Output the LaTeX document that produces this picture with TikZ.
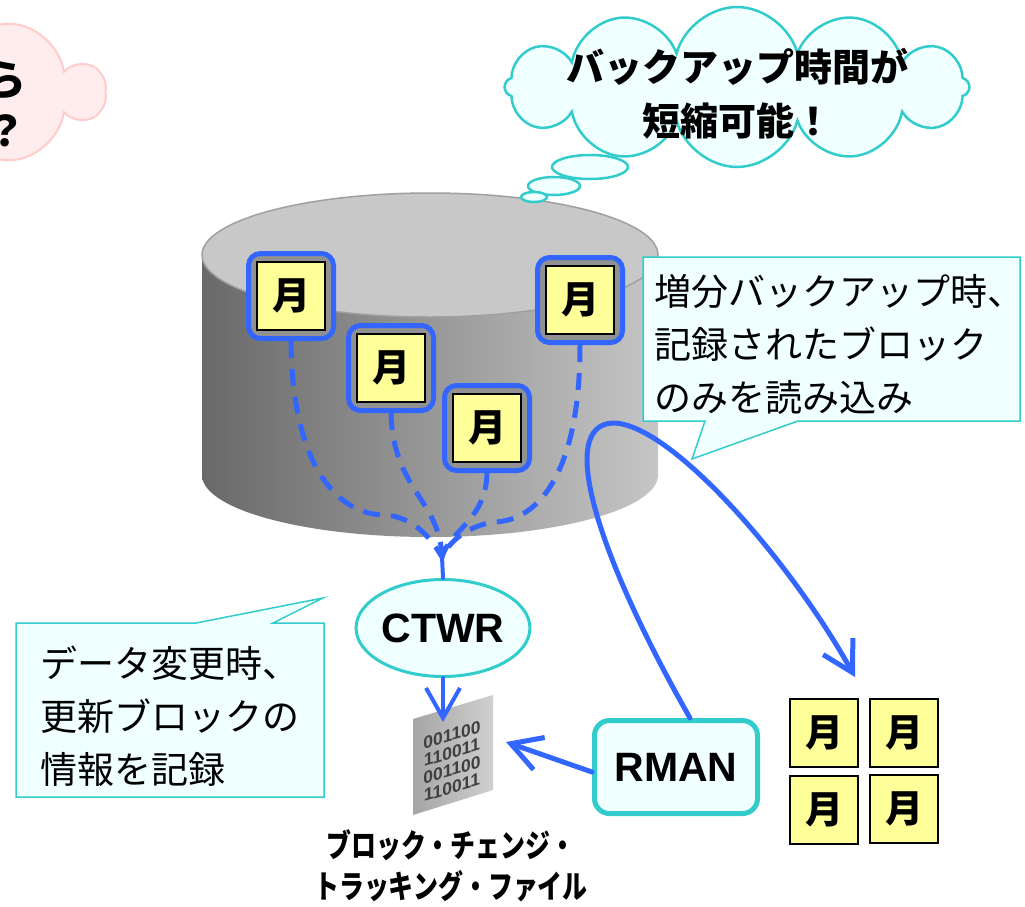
\documentclass[tikz,border=0pt]{standalone}
\usepackage{fontspec}
\newfontfamily\jpfont{Noto Sans CJK JP}
\newfontfamily\sansfont{Liberation Sans}
\usetikzlibrary{arrows.meta,shapes.geometric,shapes.symbols}

\definecolor{flowblue}{RGB}{51,102,255}
\definecolor{tealine}{RGB}{51,204,204}
\definecolor{paleteal}{RGB}{240,255,255}
\definecolor{noteyellow}{RGB}{255,255,153}
\definecolor{pinkfill}{RGB}{255,236,236}
\definecolor{pinkline}{RGB}{255,204,204}
\definecolor{drumtop}{RGB}{200,200,200}
\definecolor{drumedge}{RGB}{160,160,160}
\definecolor{drumdark}{RGB}{105,105,105}
\definecolor{drumlight}{RGB}{198,198,198}
\definecolor{framegray}{RGB}{145,145,145}

\tikzset{
  flow/.style={flowblue,line width=4pt,line cap=round},
  blockpath/.style={flowblue,line width=5pt,dash pattern=on 17pt off 11pt},
  tagframe/.style={draw=flowblue,line width=5pt,rounded corners=12pt,fill=framegray,minimum size=85pt,inner sep=0pt},
  monthbox/.style={draw=black,line width=1.5pt,fill=noteyellow,minimum size=68pt,inner sep=0pt,font=\jpfont\bfseries\fontsize{38}{38}\selectfont},
  note/.style={draw=tealine,fill=paleteal,line width=1.5pt},
  notetext/.style={anchor=west,align=left,inner sep=0pt,font=\jpfont\fontsize{37}{53}\selectfont},
  proc/.style={draw=tealine,fill=paleteal,inner sep=0pt,font=\sansfont\bfseries\fontsize{41}{41}\selectfont},
}

\begin{document}
\begin{tikzpicture}[x=1pt,y=-1pt,>={Straight Barb[length=30pt,width=34pt]}]
  \useasboundingbox (0,0) rectangle (1025,906);

  % Cloud cut off at the left edge
  \begin{scope}
    \clip (0,0) rectangle (1025,906);
    \node[cloud,cloud puffs=10,aspect=2.4,draw=pinkline,fill=pinkfill,line width=2pt,minimum width=430pt,minimum height=168pt] (doubt) at (-112,92) {};
  \end{scope}
  \node[font=\jpfont\bfseries\fontsize{42}{42}\selectfont] (doubta) at (6,80) {ら};
  \node[font=\jpfont\bfseries\fontsize{42}{42}\selectfont] (doubtb) at (6,131) {？};

  % Disk drum
  \shade[left color=drumdark,right color=drumlight] (202,255) -- (202,475)
    arc[start angle=180,end angle=0,x radius=228,y radius=62] -- (658,255) -- cycle;
  \draw[drumedge,fill=drumtop,line width=1.5pt] (430,255) ellipse[x radius=228,y radius=62];

  % Thought cloud
  \node[cloud,cloud puffs=12,aspect=3,draw=tealine,fill=paleteal,line width=2.5pt,minimum width=465pt,minimum height=160pt] (gain) at (737,87) {};
  \node[align=center,font=\jpfont\bfseries\fontsize{38}{54}\selectfont] (gaintext) at (737,94) {バックアップ時間が\\短縮可能！};
  \foreach \cx/\cy/\rx/\ry in {590/167/38/12,554/186/26/9,534/197/13/5}
    \draw[tealine,fill=paleteal,line width=2.5pt] (\cx,\cy) ellipse[x radius=\rx,y radius=\ry];

  % Note on the incremental backup
  \draw[note] (643,257) -- (1020,257) -- (1020,421) -- (798,421) -- (692,459) -- (705,421) -- (643,421) -- cycle;
  \node[notetext] (readnote) at (654,344) {増分バックアップ時、\\記録されたブロック\\のみを読み込み};

  % Changed blocks on the drum
  \foreach \name/\px/\py in {fa/291/296,fb/391/368,fc/487/428,fd/580/300} {
    \node[tagframe] (\name) at (\px,\py) {};
    \node[monthbox] (\name-m) at (\px,\py) {月};
  }

  % Change tracking writer
  \node[proc,ellipse,line width=3pt,minimum width=167pt,minimum height=97pt] (ctwr) at (443,628) {CTWR};

  \coordinate (hub) at (442,557);
  \draw[blockpath] (fa.south) .. controls (292,470) and (340,515) .. (385,515)
    .. controls (415,517) and (432,540) .. (hub);
  \draw[blockpath] (fb.south) .. controls (393,490) and (440,500) .. (hub);
  \draw[blockpath] (fc.south) .. controls (486,520) and (450,530) .. (hub);
  \draw[blockpath] (fd.south) .. controls (580,470) and (540,520) .. (495,522)
    .. controls (470,525) and (450,540) .. (hub);
  \draw[flow] (hub) -- (ctwr.north);

  % Tracking file
  \shade[left color={rgb,255:red,165;green,165;blue,165},right color={rgb,255:red,208;green,208;blue,208}]
    (413,719) -- (493,695) -- (493,790) -- (413,815) -- cycle;
  \node[yslant=0.3,align=center,inner sep=0pt,text=black!75,font=\sansfont\bfseries\fontsize{17.5}{17.5}\selectfont] (bits) at (452,761) {001100\\110011\\001100\\110011};
  \node[align=center,xscale=0.78,font=\jpfont\bfseries\fontsize{32}{41}\selectfont] (ctfile) at (451,866) {ブロック・チェンジ・\\トラッキング・ファイル};
  \coordinate (filetop) at (443,722);
  \coordinate (fileside) at (506,742);
  \draw[flow,->] (ctwr.south) -- (filetop);

  % Note on the change tracking
  \draw[note] (16,623) -- (196,623) -- (323,598) -- (273,623) -- (324,623) -- (324,797) -- (16,797) -- cycle;
  \node[notetext] (logtext) at (40,716) {データ変更時、\\更新ブロックの\\情報を記録};

  % Backup tool and the blocks it reads
  \node[proc,rounded corners=15pt,line width=5pt,minimum width=163pt,minimum height=93pt] (rman) at (676,767) {RMAN};
  \node[monthbox] (m1) at (824,733) {月};
  \node[monthbox] (m2) at (904,733) {月};
  \node[monthbox] (m3) at (824,810) {月};
  \node[monthbox] (m4) at (904,809) {月};

  \coordinate (stack) at (855,677);
  \draw[flow,line width=5pt,->] ([yshift=-5pt]rman.west) -- (fileside);
  \draw[flow,line width=5pt,->] ([xshift=14pt]rman.north) .. controls (600,560) and (555,425) .. (613,423)
    .. controls (670,423) and (790,560) .. (stack);
\end{tikzpicture}
\end{document}
